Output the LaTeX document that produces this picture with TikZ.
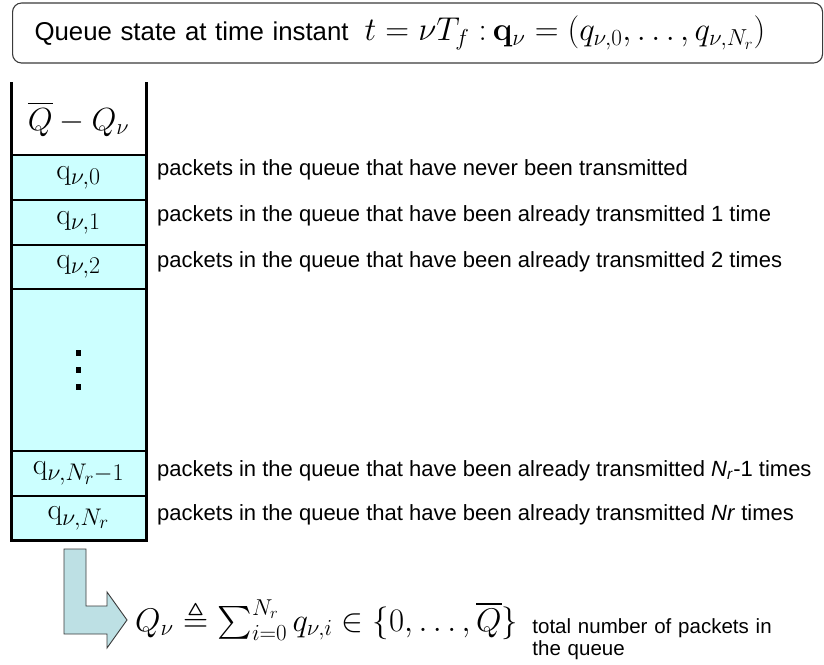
\RequirePackage{fix-cm}
\documentclass[tikz,border=0pt]{standalone}
\usepackage{amsmath,amssymb}
\usepackage[no-math]{fontspec}
\setmainfont{Liberation Sans}
\usetikzlibrary{positioning}
\definecolor{QCyan}{HTML}{CCFFFF}
\definecolor{ArrFill}{HTML}{BDE0E4}
\definecolor{Edge}{HTML}{3A3A3A}
\DeclareMathSizes{30}{30}{24}{19}

\begin{document}
\begin{tikzpicture}[x=1pt,y=-1pt,node distance=0pt,
topbox/.style={draw=Edge,line width=1.1pt,rounded corners=9pt,minimum height=60pt,text width=766pt,align=left,inner xsep=22pt,font=\fontsize{25.8}{28}\selectfont},
cell/.style={draw,line width=1.3pt,fill=QCyan,minimum width=135pt,minimum height=45pt,inner sep=0pt,outer sep=0pt,font=\fontsize{30}{32}\selectfont},
lbl/.style={inner sep=0pt,font=\fontsize{22}{25}\selectfont},
wall/.style={line width=3pt,line cap=rect}]
\useasboundingbox (0,0) rectangle (824,664);
\node[topbox,anchor=west] (st) at (12,33) {Queue state at time instant\hspace{16pt}{\fontsize{33}{36}\selectfont$t=\nu T_f:$\hspace{6pt}$\mathbf{q}_\nu=(q_{\nu,0},\ldots,q_{\nu,N_r})$}};
\node[cell,draw=none,fill=none,minimum height=72pt,font=\fontsize{32}{36}\selectfont] (hd) at (78.5,119) {$\overline{Q}-Q_\nu$};
\node[cell,below=of hd] (c0) {$\mathrm{q}_{\nu,0}$};
\node[cell,below=of c0] (c1) {$\mathrm{q}_{\nu,1}$};
\node[cell,below=of c1,minimum height=44pt] (c2) {$\mathrm{q}_{\nu,2}$};
\node[cell,below=of c2,minimum height=162pt] (cd) {};
\node[cell,below=of cd] (cm) {$\mathrm{q}_{\nu,N_r-1}$};
\node[cell,below=of cm,minimum height=44pt] (cn) {$\mathrm{q}_{\nu,N_r}$};
% three square dots
\foreach \d in {-17,0,17}{\fill ([yshift=\d pt]cd.center) +(-2.6,-2.6) rectangle +(2.6,2.6);}
% queue walls
\draw[wall] (hd.north west) -- (cn.south west) -- (cn.south east) -- (hd.north east);
\draw[wall,line width=2.6pt] (c0.north west) -- (c0.north east);
% labels
\foreach \c/\dy/\t in {c0/8/{packets in the queue that have never been transmitted},
c1/7/{packets in the queue that have been already transmitted 1 time},
c2/5/{packets in the queue that have been already transmitted 2 times},
cm/3/{packets in the queue that have been already transmitted \textit{N}\textsubscript{\textit{r}}-1 times},
cn/3/{packets in the queue that have been already transmitted \textit{Nr} times}}
{\node[lbl,right=11pt of \c,yshift=\dy pt] (l\c) {\t};}
% bent arrow
\draw[Edge,fill=ArrFill,line width=0.9pt] (64,549) -- (86,549) -- (86,606) -- (107,606) -- (107,592) -- (127,620) -- (107,648) -- (107,634) -- (64,634) -- cycle;
\node[inner sep=0pt,anchor=west,font=\fontsize{32.8}{36}\selectfont] (sum) at (135,620) {$Q_\nu\triangleq\sum_{i=0}^{N_r}q_{\nu,i}\in\{0,\ldots,\overline{Q}\}$};
\node[lbl,right=14pt of sum,yshift=-19pt,text width=270pt,align=left,font=\fontsize{20.5}{22}\selectfont] (tot) {total number of packets in\\the queue};
\end{tikzpicture}
\end{document}
